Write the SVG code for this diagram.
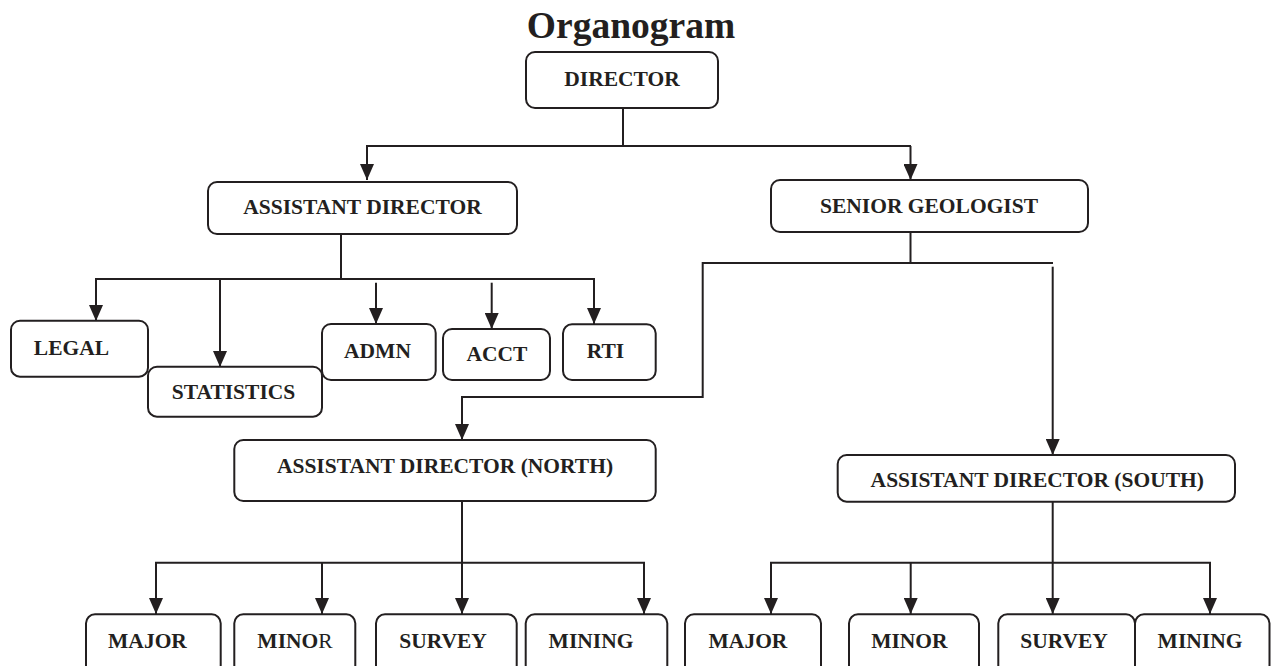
<svg xmlns="http://www.w3.org/2000/svg" width="1271" height="666" viewBox="0 0 1271 666">
<style>
.box{fill:#fff;stroke:#231f20;stroke-width:2}
.t{font-family:"Liberation Serif","Times New Roman",serif;font-weight:bold;font-size:21.5px;fill:#231f20;text-anchor:middle}
.c{fill:none;stroke:#231f20;stroke-width:2}
.a{marker-end:url(#arr)}
</style>
<defs>
<marker id="arr" markerUnits="userSpaceOnUse" markerWidth="16" markerHeight="14" refX="16" refY="7" orient="auto" viewBox="0 0 16 14">
<path d="M0,0 L16,7 L0,14 z" fill="#231f20"/>
</marker>
</defs>
<rect width="1271" height="666" fill="#fff"/>
<text x="631" y="38" class="t" style="font-size:37.5px">Organogram</text>
<g id="connectors">
<path class="c" d="M623,108 V146"/>
<path class="c a" d="M911,146 H367 V180"/>
<path class="c a" d="M910.5,146 V180"/>
<path class="c" d="M341,234 V279"/>
<path class="c a" d="M341,279 H96 V321"/>
<path class="c a" d="M220,279 V367"/>
<path class="c a" d="M341,279 H594 V324"/>
<path class="c a" d="M376,282.7 V324"/>
<path class="c a" d="M491.7,282.7 V329"/>
<path class="c" d="M910.5,232 V263"/>
<path class="c a" d="M1053,263 H702.7 V397 H462 V440"/>
<path class="c a" d="M1052.7,266.7 V455"/>
<path class="c a" d="M462,501 V614"/>
<path class="c a" d="M462,562.7 H156 V614"/>
<path class="c a" d="M322,562.7 V614"/>
<path class="c a" d="M462,562.7 H644 V614"/>
<path class="c a" d="M1052.7,501.7 V614"/>
<path class="c a" d="M1052.7,562.7 H771 V614"/>
<path class="c a" d="M910.7,562.7 V614"/>
<path class="c a" d="M1052.7,562.7 H1210 V614"/>
</g>
<g id="director"><rect class="box" x="526" y="52" width="192" height="56" rx="9"/><text class="t" x="622" y="86">DIRECTOR</text></g>
<g id="asst-director"><rect class="box" x="208" y="182" width="309" height="52" rx="9"/><text class="t" x="362.5" y="214">ASSISTANT DIRECTOR</text></g>
<g id="senior-geologist"><rect class="box" x="771" y="180" width="317" height="52" rx="9"/><text class="t" x="929" y="213.3">SENIOR GEOLOGIST</text></g>
<g id="legal"><rect class="box" x="11" y="320.7" width="137" height="56" rx="9"/><text class="t" x="71.5" y="355">LEGAL</text></g>
<g id="statistics"><rect class="box" x="148" y="366.7" width="174" height="50" rx="9"/><text class="t" x="233.5" y="399">STATISTICS</text></g>
<g id="admn"><rect class="box" x="322" y="324" width="113.7" height="56" rx="9"/><text class="t" x="377.5" y="358">ADMN</text></g>
<g id="acct"><rect class="box" x="443" y="329" width="107" height="51" rx="9"/><text class="t" x="497" y="361">ACCT</text></g>
<g id="rti"><rect class="box" x="563" y="324.3" width="92.7" height="55.7" rx="9"/><text class="t" x="605.5" y="358">RTI</text></g>
<g id="ad-north"><rect class="box" x="234.3" y="440" width="421.4" height="61" rx="9"/><text class="t" x="445" y="473.3">ASSISTANT DIRECTOR (NORTH)</text></g>
<g id="ad-south"><rect class="box" x="837.7" y="455" width="397.3" height="46.7" rx="9"/><text class="t" x="1037.3" y="487">ASSISTANT DIRECTOR (SOUTH)</text></g>
<g id="n-major"><rect class="box" x="86" y="614.3" width="134.7" height="60" rx="9"/><text class="t" x="147.5" y="648.3">MAJOR</text></g>
<g id="n-minor"><rect class="box" x="234.3" y="614.3" width="121" height="60" rx="9"/><text class="t" x="295" y="648.3">MINO<tspan style="font-weight:normal">R</tspan></text></g>
<g id="n-survey"><rect class="box" x="376" y="614.3" width="140.7" height="60" rx="9"/><text class="t" x="443" y="648.3">SURVEY</text></g>
<g id="n-mining"><rect class="box" x="525.7" y="614.3" width="141.6" height="60" rx="9"/><text class="t" x="591" y="648.3">MINING</text></g>
<g id="s-major"><rect class="box" x="685" y="614.3" width="136" height="60" rx="9"/><text class="t" x="748" y="648.3">MAJOR</text></g>
<g id="s-minor"><rect class="box" x="849" y="614.3" width="130" height="60" rx="9"/><text class="t" x="909.4" y="648.3">MINOR</text></g>
<g id="s-survey"><rect class="box" x="998.3" y="614.3" width="136.7" height="60" rx="9"/><text class="t" x="1064" y="648.3">SURVEY</text></g>
<g id="s-mining"><rect class="box" x="1135" y="614.3" width="134.5" height="60" rx="9"/><text class="t" x="1200" y="648.3">MINING</text></g>
</svg>
